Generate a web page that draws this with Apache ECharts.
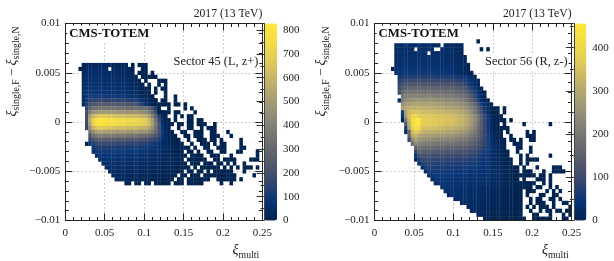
<!DOCTYPE html>
<html><head><meta charset="utf-8">
<style>html,body{margin:0;padding:0;background:#fff}#c{width:614px;height:261px;filter:blur(0.35px)}</style>
<script src="https://cdn.jsdelivr.net/npm/echarts@6/dist/echarts.min.js"></script>
</head><body><div id="c"></div>
<script>
const colsPerAxis = 60, rowsPerAxis = 50;
const cbMaxL = 828, cbMaxR = 456;
const strayCount = 2;
const palette = ['#00224e','#083577','#37476e','#555b6c','#6e6f71','#888577','#a49b75','#c1b16a','#dfc95a','#f2dc48','#fee838'];

// Sector 45: each row is [first column, counts...]; the first row is rowStartL, counted from the top
const rowStartL = 10;
const rowsL = [
[5,9,28,33,30,36,38,31,35,33,29,30,26,20,12],
[4,5,25,41,46,42,48,45,50,46,0,44,40,42,35,30,22],
[5,30,47,50,48,52,49,55,50,47,50,46,44,40,36,30,18],
[5,32,52,55,53,56,54,58,55,52,54,50,47,44,40,34,26,10],
[5,34,54,58,60,57,60,62,58,60,56,54,52,50,45,38,30,22,6],
[5,36,60,62,66,63,68,64,66,62,60,62,58,55,50,44,36,26,16,6],
[5,40,66,72,70,74,72,76,72,70,68,70,64,60,56,50,42,32,20,10,4],
[5,44,76,82,84,80,86,84,82,80,78,76,74,70,66,60,52,42,30,18,8,3],
[5,50,88,100,104,100,108,104,102,100,98,96,92,90,84,78,70,58,44,28,14,6,3],
[5,40,110,135,150,155,152,158,150,154,152,148,150,146,142,140,130,120,100,70,44,22,8,3],
[5,30,130,190,225,240,245,250,248,245,240,246,238,235,230,225,220,205,170,130,70,30,10,3],
[6,150,270,330,345,355,350,360,352,348,345,340,338,335,332,330,328,325,320,310,280,220,130,40],
[6,180,380,450,480,490,485,495,480,478,470,472,465,462,460,458,455,450,440,420,380,300,190,80,12],
[6,190,500,600,640,660,665,670,650,640,635,630,625,620,615,612,608,600,590,560,500,400,270,120,40,6],
[6,185,560,720,790,820,815,800,775,770,760,745,750,740,735,730,728,722,710,680,610,500,340,170,50,8],
[6,180,520,690,770,790,780,770,750,745,735,725,720,718,715,710,705,700,690,665,610,510,380,210,80,16,3],
[6,170,450,590,650,670,665,650,640,630,625,620,615,612,610,605,600,595,585,570,530,460,350,210,90,24,4],
[7,350,460,510,525,520,515,510,505,500,495,490,488,485,482,478,472,465,450,430,385,310,210,110,40,10,3],
[7,240,330,370,385,380,375,372,368,365,360,355,352,350,346,342,336,328,315,295,265,220,160,95,45,16,5,3],
[7,150,220,255,262,260,258,255,250,248,245,240,238,236,232,228,222,215,205,190,170,145,115,80,48,24,10,4,3],
[6,4,90,135,160,170,172,170,168,165,162,160,158,156,154,150,148,144,138,130,120,106,90,70,50,32,18,8,4,3,2],
[8,90,110,120,125,125,122,120,118,116,114,112,110,108,106,104,100,96,92,86,78,68,56,44,32,20,12,6,4,3,2],
[8,70,88,96,100,102,100,98,96,94,92,90,88,86,84,82,78,74,70,66,60,52,44,36,26,18,10,6,4,0,3,2],
[9,60,76,80,84,84,82,80,78,76,74,72,70,68,66,64,62,58,54,50,46,40,34,28,20,14,8,5,3,0,3,3,2],
[10,50,64,68,70,70,68,66,64,62,60,58,56,54,52,50,46,44,40,36,32,28,22,18,12,8,5,0,3,3,3,2,2],
[11,46,56,58,60,58,56,54,52,50,48,46,44,42,40,38,36,34,30,26,22,18,14,10,6,4,3,0,3,3,3,0,2,2],
[12,40,48,50,50,48,46,44,42,40,38,36,34,32,30,28,26,24,22,18,16,12,10,6,4,3,3,0,3,0,3,3,2,2],
[13,34,40,42,40,38,36,34,32,30,28,26,24,22,20,18,16,14,12,10,8,6,4,3,0,3,3,0,3,3,0,3,0,2,2],
[14,28,34,34,32,30,28,26,24,22,20,18,16,14,14,12,10,8,6,5,4,0,3,3,0,3,3,3,0,3,3,3,3,2],
[15,20,26,24,24,22,20,18,16,16,14,12,10,8,8,6,5,4,3,0,3,3,0,3,3,3,3,3,2,2],
[18,6,12,0,14,12,0,10,8,0,8,6,5,5,3,0,4,3,3,0,3,3,3,3,2]
];
// Isolated low-count cells: [row, columns...]
const straysL = [
[10,20,22,23,24],[11,20,23,24],[12,22,23,24,26],[13,23,24,25,26,27],[14,24,28,29,30],[15,25,28,30],
[16,25,27,29,30],[17,27,30],[18,26,30,33],[19,27,29,30,33],[20,28,29,30,31,33,34,36],[21,28,31,36,38],
[22,28,29,30,31,33,34,39],[23,30,33,35,37,38],[24,31,33,37,38,40,41],[25,32,34,35,37,38,40,41,42,45],
[26,34,37,38,41,43,44,45],[27,35,36,39,40,41,44,45,49],[28,36,37,39,40,41,44,45,46,50],
[29,37,40,41,42,44,45,47,53],[30,38,41,42,43,45,47,48,53],[31,39,42,43,46,47,48,53,54],
[32,40,43,44,47,48,52,53,58],[33,41,44,45,46,50,58],[34,42,45,46,48,49,50,51,56,57,58],
[35,44,46,47,49,51,54],[36,45,46,48,50,52,54,55,56,58],[37,47,48,49,50,54],[38,47,48,49,50,51,57],
[39,46,47,48,49,50,51,53],[40,47,50]
];

// Sector 56
const rowStartR = 5;
const rowsR = [
[6,20,24,22,26,24,26,25,28,24,27,25,26,23,25,0,24,22,20,18,20,14],
[6,18,26,28,27,30,28,0,30,27,29,26,28,0,0,25,27,24,22,21,18,12],
[6,20,28,30,29,31,32,30,33,29,31,0,30,28,30,27,29,26,25,22,20,14],
[6,22,30,32,34,30,35,33,34,32,36,31,33,30,32,30,28,29,26,24,22,18,8],
[6,24,32,35,36,34,37,35,38,36,34,36,33,35,32,33,30,31,28,26,24,20,10],
[6,26,34,38,37,40,38,42,39,41,38,40,38,36,37,35,36,33,32,30,26,22,14,5],
[5,6,30,38,42,44,43,46,44,47,45,46,43,44,42,40,41,38,37,34,32,28,22,12,4],
[6,34,46,50,52,50,54,52,55,52,53,50,52,48,49,46,45,42,40,38,32,26,16,6,3],
[7,50,60,66,68,70,68,72,70,72,68,70,66,64,66,62,64,60,62,58,54,48,38,24,8],
[7,70,84,92,95,98,96,100,96,98,95,96,92,90,92,88,90,86,84,82,76,68,56,40,22,6],
[7,90,110,122,128,130,128,132,130,126,128,125,122,124,120,118,118,114,112,108,100,88,70,46,22,6],
[7,100,135,150,158,162,160,164,160,158,160,155,158,152,150,148,150,146,142,138,130,116,96,70,42,18,5],
[7,110,160,180,190,192,195,190,196,188,190,186,188,182,180,176,178,174,170,166,158,146,126,98,66,36,14,4],
[8,190,210,218,222,220,224,218,222,216,220,214,212,208,205,204,200,196,192,184,172,152,122,86,50,20,5],
[7,30,205,238,250,255,258,254,260,252,256,250,252,246,242,240,238,234,230,224,214,198,176,146,108,68,32,10,4],
[8,240,265,278,284,288,284,290,282,286,280,282,276,272,268,266,262,258,252,244,232,214,190,156,116,72,34,12,4],
[8,280,300,312,320,316,322,314,318,310,314,306,302,298,294,292,288,284,278,270,258,242,218,185,145,100,58,26,8,3],
[8,60,280,335,350,352,350,340,346,335,340,332,328,325,322,320,316,310,304,294,280,262,236,200,155,105,60,26,8,3],
[8,40,270,345,395,400,370,372,365,368,358,360,352,350,348,345,342,336,330,320,308,290,265,232,190,140,92,50,20,7,3],
[8,10,200,330,410,445,440,378,372,375,366,370,360,358,356,352,350,345,338,328,315,298,272,238,195,145,95,52,22,8,3],
[9,130,310,400,450,440,375,372,368,362,366,358,354,350,348,345,340,332,322,308,290,265,232,190,140,92,50,22,8,3],
[9,60,290,385,420,405,352,350,345,342,345,338,332,330,326,322,318,312,302,290,272,250,220,182,138,94,55,26,10,4,2],
[9,20,170,340,372,355,322,318,312,310,308,305,300,298,294,290,286,280,272,260,244,224,198,165,128,90,55,28,12,5,2],
[10,150,300,330,295,285,280,278,272,275,268,264,262,258,255,250,246,240,230,218,202,182,158,128,94,62,36,16,6,2],
[10,90,240,285,258,250,245,242,240,236,232,230,228,225,222,218,214,208,200,190,178,162,142,118,90,64,40,22,10,4,2],
[11,180,230,222,215,210,205,204,200,198,195,192,190,188,184,180,176,170,162,152,140,124,104,82,60,40,24,12,5,2],
[12,150,185,180,175,170,168,166,162,160,158,156,154,150,148,144,140,134,126,116,104,90,74,56,40,26,14,6,2],
[12,90,150,148,144,140,136,135,132,130,128,126,124,122,118,116,112,108,102,94,86,74,62,48,34,24,14,8,4,2],
[12,40,100,118,115,112,108,106,104,102,100,100,98,96,94,92,90,86,82,76,70,62,52,42,30,22,14,8,4,2],
[12,15,60,90,94,92,90,88,86,84,82,82,80,78,76,76,74,72,68,64,60,54,46,38,30,22,14,9,5,3,2],
[13,30,68,78,78,76,74,72,70,70,68,68,66,66,64,62,60,58,54,52,48,42,36,30,24,16,10,6,3,2],
[14,30,60,66,66,64,62,60,60,58,58,56,56,54,52,52,50,48,46,44,40,36,32,26,20,14,9,5,3,2],
[15,28,52,58,58,56,54,54,52,52,50,50,48,48,46,44,44,42,40,36,34,30,26,20,14,9,5,3,2],
[16,26,48,52,52,50,48,48,46,46,44,44,42,42,40,40,38,36,34,32,28,26,22,18,12,8,5,3,2],
[17,22,44,48,46,46,44,42,42,40,40,38,38,36,36,34,32,30,28,26,24,20,16,12,8,5,3,2],
[18,20,40,44,44,42,40,40,38,38,36,36,34,34,32,32,30,28,26,24,22,20,16,12,8,5,3,2],
[20,24,38,40,38,38,36,34,32,32,30,28,26,24,22,20,18,16,14,12,9,7,5,3,2,2],
[21,22,36,38,36,34,32,32,30,28,26,26,24,22,20,18,16,14,12,10,7,5,3,2,2],
[22,14,32,34,34,32,30,28,28,26,24,22,20,18,16,14,12,10,8,6,4,3,2,2],
[24,18,30,30,28,28,26,24,22,20,18,16,14,12,10,8,7,5,3,2,2,2],
[26,20,28,26,24,24,22,20,18,16,14,12,10,9,7,5,3,2,2,2],
[28,14,24,22,20,18,16,14,12,10,9,8,6,4,3,2,2,2],
[29,8,20,20,18,16,14,12,10,9,8,6,5,3,2,2,2],
[31,10,16,14,12,10,9,8,6,5,4,3,2,2,2],
[33,8,10,9,8,6,5,4,3,3,2,2,2]
];
const straysR = [
[4,31],[6,32,34],[21,37,39],[22,37,39],[23,38],[24,38,39,41],[25,39,45,53],[26,39,40],[27,40,46,48],
[28,41,46,47,48],[29,41,42,44,47,48],[30,42,43,44],[31,43,44,47],[32,43,47],[33,44,46,53],
[34,44,46,47,48,49],[35,44,46],[36,43,45,49,54,55,56],[37,43,45,46,47,51,54,55,56,57],
[38,44,45,46,47,48,50,51,53],[39,45,49,50,51,53],[40,45,46,47,48,51,53],[41,45,46,47,49,50,53,55],
[42,46,47,48,52,54,56],[43,46,50,51,54,55],[44,47,49,50,53,54,56],[45,47,49,50,51,54,57,58],
[46,46,48,50,51,52,54,59],[47,47,50,52,53,55,56,58,59],[48,48,49,53,57,59],[49,45,48,49,50,51,52,53,57,58]
];

const xStep = 0.25 / colsPerAxis, yStep = 0.02 / rowsPerAxis;
function cells(rows, rowStart, strays) {
  const out = [];
  rows.forEach((r, i) => r.slice(1).forEach((v, j) => {
    if (v > 0) out.push([(r[0] + j) * xStep, 0.01 - (rowStart + i) * yStep, v]);
  }));
  strays.forEach(r => r.slice(1).forEach(c => out.push([c * xStep, 0.01 - r[0] * yStep, strayCount])));
  return out;
}
function renderCell(params, api) {
  const a = api.coord([api.value(0), api.value(1)]);
  const b = api.coord([api.value(0) + xStep, api.value(1) - yStep]);
  return {type:'rect', shape:{x:a[0], y:a[1], width:b[0]-a[0]+0.3, height:b[1]-a[1]+0.3}, style:{fill:api.visual('color')}};
}

const FONT = '"Liberation Serif", serif';
const INK = '#222';
const fmt = v => String(v).replace('-', '\u2212');
const plots = [
  {left:65.3, cb:264.5, max:cbMaxL, data:cells(rowsL,rowStartL,straysL), cbStep:100},
  {left:374.6, cb:573.8, max:cbMaxR, data:cells(rowsR,rowStartR,straysR), cbStep:100}
];
const TOP = 23.5, H = 197, W = 197, CBW = 12.5;
const grid=[], xAxis=[], yAxis=[], series=[], visualMap=[], texts=[];
const xBase = {type:'value', min:0, max:0.25, interval:0.05};
const yBase = {type:'value', min:-0.01, max:0.01, interval:0.005};
const line = {show:true, onZero:false, lineStyle:{color:INK, width:1}};
const tick = {show:true, inside:true, length:7, lineStyle:{color:INK, width:1}};
const minor = {show:true, splitNumber:5, length:3.5, lineStyle:{color:INK, width:1}};
const dots = {show:true, showMinLine:false, showMaxLine:false, lineStyle:{type:[1,3], color:'#999', width:1}};
const label = {fontFamily:FONT, fontSize:11, color:INK, formatter:fmt};

plots.forEach((p, n) => {
  const g0 = grid.length;
  grid.push({left:p.left, top:TOP, width:W, height:H});      // dotted lines and cells
  grid.push({left:p.left, top:TOP, width:W, height:H, z:5}); // frame and ticks
  grid.push({left:p.cb, top:TOP, width:CBW, height:H, z:5}); // colour bar scale
  const xi = xAxis.length, yi = yAxis.length;
  xAxis.push({...xBase, gridIndex:g0, axisLine:{show:false}, axisTick:{show:false}, axisLabel:{show:false}, splitLine:dots});
  yAxis.push({...yBase, gridIndex:g0, axisLine:{show:false}, axisTick:{show:false}, axisLabel:{show:false}, splitLine:dots});
  xAxis.push({...xBase, gridIndex:g0+1, z:6, position:'bottom', axisLine:line, axisTick:tick, minorTick:minor, splitLine:{show:false}, axisLabel:{...label, margin:7}});
  xAxis.push({...xBase, gridIndex:g0+1, z:6, position:'top', axisLine:line, axisTick:tick, minorTick:minor, splitLine:{show:false}, axisLabel:{show:false}});
  yAxis.push({...yBase, gridIndex:g0+1, z:6, position:'left', axisLine:line, axisTick:tick, minorTick:minor, splitLine:{show:false}, axisLabel:{...label, margin:5}});
  yAxis.push({...yBase, gridIndex:g0+1, z:6, position:'right', axisLine:line, axisTick:tick, minorTick:minor, splitLine:{show:false}, axisLabel:{show:false}});
  xAxis.push({type:'value', gridIndex:g0+2, min:0, max:1, show:false});
  yAxis.push({type:'value', gridIndex:g0+2, z:6, min:0, max:p.max, interval:p.cbStep, position:'right',
    axisLine:{show:true, lineStyle:{color:'#444', width:1}}, axisTick:{show:true, inside:true, length:8, lineStyle:{color:'#333', width:1}},
    minorTick:{show:true, splitNumber:2, length:4, lineStyle:{color:'#333', width:1}}, splitLine:{show:false},
    axisLabel:{...label, margin:6, showMaxLabel:false}});
  series.push({type:'custom', coordinateSystem:'cartesian2d', xAxisIndex:xi, yAxisIndex:yi, silent:true,
    encode:{x:0, y:1}, data:p.data, renderItem:renderCell});
  visualMap.push({type:'continuous', seriesIndex:n, dimension:2, min:0, max:p.max, left:p.cb, top:TOP, itemWidth:CBW, itemHeight:H,
    padding:0, calculable:false, hoverLink:false, text:null, showLabel:false, inRange:{color:palette}, outOfRange:{color:palette}});
  const L = p.left;
  const t = (text, x, y, extra) => texts.push({type:'text', x, y, z:20, silent:true,
    style:{text, fontFamily:FONT, fontSize:11, fill:INK, ...extra}});
  t('2017 (13 TeV)', L+W, 7.5, {textAlign:'right', fontSize:11.7});
  t('CMS-TOTEM', L+2, 25.5, {fontWeight:'bold', fontSize:12.8, fill:'#111', backgroundColor:'#fff', padding:[2,2,2,2]});
  t(n ? 'Sector 56 (R, z-)' : 'Sector 45 (L, z+)', L+W-3, 55, {textAlign:'right', fontSize:12.4, backgroundColor:'#fff', padding:[1,1,1,1]});
  const rich = {i:{fontFamily:FONT, fontStyle:'italic', fontSize:14, fill:INK, lineHeight:19, verticalAlign:'middle'},
    s:{fontFamily:FONT, fontSize:9.8, fill:INK, lineHeight:19, verticalAlign:'bottom'},
    m:{fontFamily:FONT, fontSize:13, fill:INK, lineHeight:19, verticalAlign:'middle'}};
  t('{i|\u03BE}{s|multi}', L+W-3, 241, {textAlign:'right', rich});
  texts.push({type:'text', x:L-53, y:TOP+3, z:20, silent:true, rotation:Math.PI/2,
    style:{text:'{i|\u03BE}{s|single,F}{m| \u2212 }{i|\u03BE}{s|single,N}', textAlign:'right', textVerticalAlign:'middle', rich}});
});

const chart = echarts.init(document.getElementById('c'));
chart.setOption({animation:false, backgroundColor:'#fff', grid, xAxis, yAxis, series, visualMap, graphic:{elements:texts}});
</script></body></html>
